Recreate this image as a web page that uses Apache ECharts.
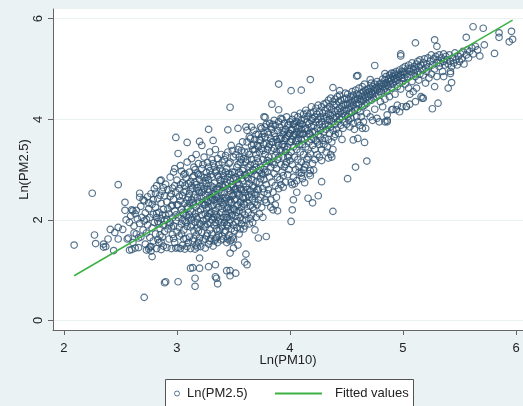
<!DOCTYPE html>
<html>
<head>
<meta charset="utf-8">
<script src="https://cdn.jsdelivr.net/npm/echarts@6/dist/echarts.min.js"></script>
<style>
  html, body { margin: 0; padding: 0; background: #eaf2f3; }
  #chart { width: 523px; height: 406px; }
</style>
</head>
<body>
<div id="chart"></div>
<script>
// tick labels
const xTicks = [2, 3, 4, 5, 6];
const yTicks = [0, 2, 4, 6];

// fitted line end points [Ln(PM10), Ln(PM2.5)]
const fitPm10 = [2.09, 5.97];
const fitPm25 = [0.89, 5.97];

const cloudLow = [
  [2.56,1.62],[2.58,1.95],[2.59,2.08],[2.61,1.55],[2.62,1.88],[2.63,2.12],[2.64,1.72],[2.65,2.02],[2.66,1.45],[2.67,1.93],[2.68,2.27],[2.68,1.66],[2.69,2.05],[2.70,1.80],[2.61,2.18],
  [2.71,1.98],[2.71,2.38],[2.72,1.52],[2.72,2.14],[2.73,1.74],[2.74,2.46],[2.74,1.90],[2.75,1.42],[2.75,2.22],[2.76,1.65],[2.76,2.05],[2.77,1.38],[2.77,2.52],[2.78,1.84],[2.78,2.31],[2.79,1.58],[2.79,2.11],[2.80,1.95],[2.80,2.62],[2.73,2.01],[2.77,1.47],[2.79,2.40],
  [2.81,1.72],[2.81,2.25],[2.82,1.43],[2.82,2.68],[2.83,1.97],[2.83,2.42],[2.84,1.55],[2.84,2.15],[2.85,1.83],[2.85,2.78],[2.86,1.41],[2.86,2.33],[2.86,2.02],[2.87,1.66],[2.87,2.57],[2.88,1.90],[2.88,2.21],[2.88,1.48],[2.89,2.48],[2.89,1.77],[2.90,2.09],[2.90,2.71],[2.84,1.92],[2.87,2.10],[2.83,1.61],[2.89,1.99],[2.85,2.49],[2.82,2.05],[2.88,2.64],[2.86,1.56],
  [2.91,1.45],[2.91,2.36],[2.92,1.82],[2.92,2.60],[2.93,2.12],[2.93,1.62],[2.94,2.85],[2.94,1.95],[2.95,2.27],[2.95,1.43],[2.95,2.52],[2.96,1.71],[2.96,2.04],[2.97,2.95],[2.97,1.88],[2.97,2.41],[2.98,1.55],[2.98,2.18],[2.98,2.68],[2.99,1.99],[2.99,1.44],[3.00,2.30],[3.00,1.76],[3.00,2.79],[2.92,2.22],[2.94,2.47],[2.96,2.63],[2.93,1.90],[2.99,2.55],[2.97,1.63],[2.91,2.01],[2.95,1.86],[2.98,3.02],[2.96,2.29],[2.99,2.10],
  [3.01,1.45],[3.01,2.05],[3.02,2.62],[3.02,1.68],[3.03,2.38],[3.03,3.08],[3.04,1.92],[3.04,2.21],[3.05,1.50],[3.05,2.74],[3.05,2.48],[3.06,1.80],[3.06,2.12],[3.06,2.90],[3.07,1.42],[3.07,2.33],[3.07,1.98],[3.08,2.57],[3.08,1.63],[3.08,2.83],[3.09,2.26],[3.09,1.87],[3.09,3.15],[3.10,2.04],[3.10,2.45],[3.10,1.55],[3.01,2.30],[3.02,1.85],[3.03,2.70],[3.04,2.97],[3.05,2.15],[3.06,2.55],[3.07,2.68],[3.08,2.09],[3.09,2.40],[3.10,2.72],[3.02,2.47],[3.04,1.72],[3.06,1.62],[3.08,1.95],[3.03,1.43],[3.07,2.92],[3.09,1.47],[3.05,2.00],[3.10,2.24],
  [3.11,1.66],[3.11,2.52],[3.11,2.95],[3.12,1.43],[3.12,2.18],[3.12,2.76],[3.13,1.90],[3.13,2.40],[3.13,3.22],[3.14,1.58],[3.14,2.05],[3.14,2.63],[3.15,1.78],[3.15,2.30],[3.15,2.88],[3.15,3.05],[3.16,1.42],[3.16,2.12],[3.16,2.50],[3.16,1.96],[3.17,1.70],[3.17,2.70],[3.17,2.26],[3.17,3.30],[3.18,1.84],[3.18,2.44],[3.18,2.02],[3.18,2.93],[3.19,1.55],[3.19,2.58],[3.19,2.17],[3.19,3.12],[3.20,1.93],[3.20,2.36],[3.20,2.80],[3.20,1.64],[3.11,2.10],[3.12,2.60],[3.13,2.00],[3.14,2.85],[3.15,2.45],[3.16,2.75],[3.17,1.50],[3.18,2.64],[3.19,1.78],[3.12,1.86],[3.14,2.35],[3.16,3.00],[3.18,1.46],[3.20,2.55],[3.13,2.68],[3.15,1.63],[3.17,2.06],[3.19,2.90],[3.11,2.33],
  [3.21,1.47],[3.21,2.20],[3.21,2.66],[3.22,1.75],[3.22,2.43],[3.22,3.02],[3.23,1.98],[3.23,2.58],[3.23,1.60],[3.24,2.30],[3.24,2.84],[3.24,3.25],[3.25,1.86],[3.25,2.12],[3.25,2.49],[3.25,1.44],[3.26,2.72],[3.26,2.02],[3.26,1.68],[3.26,2.95],[3.27,2.36],[3.27,1.92],[3.27,2.61],[3.27,3.14],[3.28,1.52],[3.28,2.25],[3.28,2.80],[3.28,2.06],[3.29,1.80],[3.29,2.45],[3.29,2.98],[3.29,3.35],[3.30,2.15],[3.30,1.63],[3.30,2.68],[3.30,2.38],[3.21,2.88],[3.22,2.10],[3.23,2.35],[3.24,1.90],[3.25,2.78],[3.26,2.40],[3.27,1.73],[3.28,2.55],[3.29,2.12],[3.30,2.90],[3.21,1.90],[3.23,2.74],[3.25,2.30],[3.27,2.08],[3.29,2.60],[3.22,2.55],[3.24,2.62],[3.26,2.22],[3.28,3.05],[3.30,1.95],[3.23,3.10],[3.25,1.62],[3.27,2.85],[3.29,1.58]
];

const cloudMid = [
  [3.31,1.72],[3.31,2.28],[3.31,2.85],[3.32,1.48],[3.32,2.05],[3.32,2.52],[3.32,3.12],[3.33,1.90],[3.33,2.40],[3.33,2.73],[3.34,1.62],[3.34,2.18],[3.34,2.95],[3.34,3.40],[3.35,1.82],[3.35,2.32],[3.35,2.60],[3.35,2.10],[3.36,1.55],[3.36,2.47],[3.36,2.88],[3.36,3.22],[3.37,1.97],[3.37,2.25],[3.37,2.66],[3.37,1.70],[3.38,2.38],[3.38,2.02],[3.38,3.02],[3.38,2.80],[3.39,1.60],[3.39,2.55],[3.39,2.15],[3.39,3.30],[3.40,1.88],[3.40,2.43],[3.40,2.70],[3.40,2.97],[3.31,2.00],[3.32,2.65],[3.33,2.12],[3.34,2.50],[3.35,2.98],[3.36,2.05],[3.37,2.42],[3.38,1.80],[3.39,2.78],[3.40,2.22],[3.31,2.45],[3.33,3.05],[3.35,1.65],[3.37,3.10],[3.39,1.95],[3.32,2.30],[3.34,1.95],[3.36,2.62],[3.38,2.60],[3.40,1.68],[3.33,1.58],[3.35,2.45],[3.37,2.85],[3.39,2.35],[3.31,3.20],[3.36,1.78],[3.40,3.15],
  [3.41,1.62],[3.41,2.30],[3.41,2.88],[3.42,1.95],[3.42,2.55],[3.42,3.20],[3.43,1.78],[3.43,2.12],[3.43,2.70],[3.44,1.55],[3.44,2.42],[3.44,3.02],[3.44,2.05],[3.45,1.88],[3.45,2.62],[3.45,2.25],[3.45,3.35],[3.46,1.70],[3.46,2.50],[3.46,2.92],[3.46,2.15],[3.47,2.00],[3.47,2.78],[3.47,1.58],[3.47,3.15],[3.48,2.35],[3.48,1.82],[3.48,2.65],[3.48,3.48],[3.49,2.10],[3.49,2.95],[3.49,1.66],[3.49,2.48],[3.50,2.22],[3.50,1.90],[3.50,2.82],[3.50,3.25],[3.41,2.05],[3.42,2.38],[3.43,2.95],[3.44,2.75],[3.45,2.05],[3.46,2.35],[3.47,2.58],[3.48,2.08],[3.49,2.70],[3.50,2.50],[3.42,1.75],[3.44,2.22],[3.46,3.12],[3.48,2.90],[3.50,1.62],[3.41,2.65],[3.43,2.45],[3.45,2.85],[3.47,2.20],[3.49,3.38],[3.42,2.80],[3.44,1.90],[3.46,1.95],[3.48,1.60],[3.50,2.65],[3.43,3.28],[3.45,1.62],[3.47,2.40],
  [3.51,1.78],[3.51,2.40],[3.51,2.95],[3.52,2.08],[3.52,2.62],[3.52,3.30],[3.53,1.85],[3.53,2.28],[3.53,2.80],[3.54,2.52],[3.54,3.10],[3.54,1.98],[3.55,2.18],[3.55,2.70],[3.55,3.45],[3.55,1.72],[3.56,2.35],[3.56,2.90],[3.56,2.05],[3.57,2.60],[3.57,3.20],[3.57,1.92],[3.58,2.45],[3.58,2.78],[3.58,2.15],[3.58,3.55],[3.59,2.32],[3.59,3.02],[3.59,1.82],[3.60,2.55],[3.60,2.88],[3.60,2.10],[3.60,3.35],[3.51,2.20],[3.52,2.85],[3.53,2.55],[3.54,2.30],[3.55,2.95],[3.56,2.62],[3.57,2.25],[3.58,2.98],[3.59,2.60],[3.60,2.30],[3.52,1.95],[3.54,2.75],[3.56,3.15],[3.58,2.00],[3.60,1.88],[3.51,2.60],[3.53,3.05],[3.55,2.48],[3.57,2.82],[3.59,2.42],[3.53,2.15],[3.57,3.38],[3.55,3.25],[3.52,2.42],[3.56,1.82],[3.59,3.22],[3.54,3.40],
  [3.61,2.00],[3.61,2.65],[3.61,3.15],[3.62,2.35],[3.62,2.85],[3.62,3.55],[3.63,2.15],[3.63,2.50],[3.63,3.05],[3.64,1.92],[3.64,2.72],[3.64,3.30],[3.65,2.28],[3.65,2.58],[3.65,3.62],[3.65,2.95],[3.66,2.10],[3.66,2.80],[3.66,3.20],[3.67,2.42],[3.67,2.68],[3.67,3.40],[3.67,1.95],[3.68,2.20],[3.68,2.98],[3.68,3.50],[3.69,2.55],[3.69,3.12],[3.69,2.35],[3.70,2.75],[3.70,3.30],[3.70,2.05],[3.70,3.70],[3.61,2.45],[3.62,2.60],[3.63,3.35],[3.64,2.45],[3.65,3.10],[3.66,2.50],[3.67,3.00],[3.68,2.65],[3.69,2.90],[3.70,2.50],[3.62,3.20],[3.64,3.65],[3.66,3.48],[3.68,3.78],[3.70,3.05],[3.63,2.82],[3.65,2.02],[3.67,2.25],[3.69,3.60],[3.61,2.90],[3.66,3.85],[3.69,3.40],
  [3.71,2.30],[3.71,2.88],[3.71,3.48],[3.72,2.60],[3.72,3.15],[3.72,3.70],[3.73,2.12],[3.73,2.75],[3.73,3.35],[3.74,2.45],[3.74,3.05],[3.74,3.58],[3.75,2.25],[3.75,2.92],[3.75,3.42],[3.75,3.82],[3.76,2.62],[3.76,3.20],[3.76,2.05],[3.77,2.80],[3.77,3.50],[3.77,3.00],[3.78,2.40],[3.78,3.30],[3.78,3.65],[3.79,2.70],[3.79,3.12],[3.79,3.90],[3.80,2.52],[3.80,3.40],[3.80,2.95],[3.80,3.75],[3.71,3.22],[3.72,2.40],[3.73,3.60],[3.74,2.82],[3.75,3.65],[3.76,3.38],[3.77,2.55],[3.78,2.95],[3.79,3.52],[3.80,3.18],[3.72,3.45],[3.74,3.85],[3.76,2.90],[3.78,3.85],[3.73,2.98],[3.77,3.72],[3.79,2.35],[3.71,2.60]
];

const cloudHigh = [
  [3.81,2.60],[3.81,3.25],[3.81,3.70],[3.82,2.85],[3.82,3.50],[3.82,3.92],[3.83,2.40],[3.83,3.05],[3.83,3.62],[3.84,2.75],[3.84,3.38],[3.84,3.80],[3.85,2.55],[3.85,3.15],[3.85,3.55],[3.86,2.92],[3.86,3.72],[3.86,3.42],[3.87,2.68],[3.87,3.28],[3.87,3.88],[3.88,3.02],[3.88,3.60],[3.88,2.45],[3.89,3.20],[3.89,3.78],[3.89,2.85],[3.90,3.48],[3.90,3.95],[3.90,2.62],[3.81,3.45],[3.82,3.15],[3.83,3.85],[3.84,3.55],[3.85,3.90],[3.86,3.10],[3.87,3.65],[3.88,3.35],[3.89,3.55],[3.90,3.25],[3.83,2.25],[3.85,2.20],[3.87,2.30],[3.89,2.18],[3.86,3.98],
  [3.91,2.80],[3.91,3.40],[3.91,3.85],[3.92,3.10],[3.92,3.62],[3.92,4.02],[3.93,2.95],[3.93,3.50],[3.93,3.78],[3.94,3.25],[3.94,3.70],[3.94,2.65],[3.95,3.05],[3.95,3.58],[3.95,3.92],[3.96,3.35],[3.96,3.80],[3.96,2.75],[3.97,3.15],[3.97,3.65],[3.97,4.05],[3.98,3.45],[3.98,3.88],[3.98,2.90],[3.99,3.28],[3.99,3.72],[3.99,3.00],[4.00,3.55],[4.00,3.95],[4.00,3.18],[3.91,3.62],[3.92,3.38],[3.93,4.00],[3.94,3.50],[3.95,3.75],[3.96,3.62],[3.97,3.40],[3.98,3.68],[3.99,3.90],[4.00,3.72],[3.92,2.70],[3.94,2.88],[3.96,3.10],[3.98,3.25],[3.95,3.45],
  [4.01,3.35],[4.01,3.80],[4.01,2.75],[4.02,3.60],[4.02,4.00],[4.02,3.10],[4.03,3.45],[4.03,3.90],[4.03,2.85],[4.04,3.70],[4.04,3.25],[4.04,4.08],[4.05,3.55],[4.05,3.85],[4.05,3.00],[4.06,3.40],[4.06,3.95],[4.06,3.75],[4.07,3.62],[4.07,4.05],[4.07,3.20],[4.08,3.50],[4.08,3.88],[4.08,2.95],[4.09,3.72],[4.09,4.12],[4.09,3.35],[4.10,3.60],[4.10,3.98],[4.10,3.15],[4.01,3.55],[4.02,3.78],[4.03,3.68],[4.04,3.92],[4.05,3.70],[4.06,3.58],[4.07,3.85],[4.08,3.70],[4.09,3.92],[4.10,3.80],[4.02,2.70],[4.04,2.72],[4.06,2.78],[4.08,3.05],[4.10,2.88],
  [4.11,3.50],[4.11,3.90],[4.11,2.82],[4.12,3.72],[4.12,4.10],[4.12,3.30],[4.13,3.60],[4.13,4.00],[4.13,3.05],[4.14,3.82],[4.14,3.45],[4.14,4.18],[4.15,3.65],[4.15,3.95],[4.15,3.20],[4.16,3.78],[4.16,4.05],[4.16,3.40],[4.17,3.55],[4.17,3.92],[4.17,2.92],[4.18,3.70],[4.18,4.12],[4.18,3.32],[4.19,3.85],[4.19,3.60],[4.19,4.25],[4.20,3.75],[4.20,4.02],[4.20,3.48],[4.11,3.70],[4.13,3.80],[4.15,4.12],[4.17,3.72],[4.19,3.98],[4.12,3.00],[4.14,3.10],[4.16,3.25],[4.18,2.98],[4.20,3.12],
  [4.21,3.88],[4.21,3.62],[4.21,4.15],[4.22,3.75],[4.22,4.05],[4.22,3.40],[4.23,3.95],[4.23,3.58],[4.23,4.22],[4.24,3.82],[4.24,4.10],[4.24,3.30],[4.25,3.70],[4.25,4.00],[4.25,4.28],[4.26,3.90],[4.26,3.50],[4.26,4.15],[4.27,3.78],[4.27,4.05],[4.27,3.65],[4.28,3.95],[4.28,4.25],[4.28,3.40],[4.29,3.85],[4.29,4.12],[4.29,3.58],[4.30,4.02],[4.30,3.75],[4.30,4.30],[4.22,3.20],[4.24,3.55],[4.26,3.25],[4.28,3.18],[4.30,3.50],
  [4.31,3.90],[4.31,4.18],[4.31,3.62],[4.32,4.05],[4.32,3.80],[4.32,4.32],[4.33,3.98],[4.33,4.22],[4.33,3.45],[4.34,3.88],[4.34,4.12],[4.34,4.38],[4.35,4.00],[4.35,3.72],[4.35,4.25],[4.36,4.08],[4.36,3.85],[4.36,4.42],[4.37,3.95],[4.37,4.20],[4.37,3.55],[4.38,4.10],[4.38,4.35],[4.38,3.78],[4.39,4.02],[4.39,4.28],[4.39,3.65],[4.40,4.15],[4.40,3.90],[4.40,4.40],[4.32,3.35],[4.34,3.60],[4.36,3.30],[4.38,3.40],[4.40,3.70],
  [4.41,4.05],[4.41,4.30],[4.41,3.80],[4.42,4.18],[4.42,3.95],[4.42,4.45],[4.43,4.10],[4.43,4.35],[4.43,3.72],[4.44,4.22],[4.44,4.00],[4.44,4.48],[4.45,4.15],[4.45,3.88],[4.45,4.38],[4.46,4.25],[4.46,4.05],[4.46,3.60],[4.47,4.30],[4.47,4.12],[4.47,3.82],[4.48,4.40],[4.48,4.20],[4.48,3.95],[4.49,4.28],[4.49,4.08],[4.49,4.52],[4.50,4.18],[4.50,3.90],[4.50,4.42]
];

const cloudTop = [
  [4.51,4.30],[4.51,4.05],[4.51,4.50],[4.52,4.22],[4.52,3.98],[4.52,4.40],[4.53,4.32],[4.53,4.12],[4.53,3.85],[4.54,4.45],[4.54,4.25],[4.54,4.02],[4.55,4.35],[4.55,4.15],[4.55,4.55],[4.56,4.28],[4.56,3.92],[4.56,4.48],[4.57,4.38],[4.57,4.18],[4.57,3.80],[4.58,4.42],[4.58,4.22],[4.58,4.58],[4.59,4.32],[4.59,4.05],[4.59,4.50],[4.60,4.40],[4.60,4.20],[4.60,3.95],
  [4.61,4.48],[4.61,4.30],[4.61,4.62],[4.62,4.40],[4.62,4.15],[4.62,3.88],[4.63,4.52],[4.63,4.35],[4.63,4.05],[4.64,4.45],[4.64,4.25],[4.64,4.65],[4.65,4.55],[4.65,4.38],[4.65,3.95],[4.66,4.48],[4.66,4.28],[4.66,4.70],[4.67,4.58],[4.67,4.42],[4.67,3.82],[4.68,4.52],[4.68,4.32],[4.68,4.12],[4.69,4.60],[4.69,4.45],[4.70,4.55],[4.70,4.38],
  [4.71,4.62],[4.71,4.48],[4.71,4.05],[4.72,4.55],[4.72,4.38],[4.72,4.72],[4.73,4.65],[4.73,4.50],[4.73,3.98],[4.74,4.58],[4.74,4.42],[4.75,4.70],[4.75,4.52],[4.75,4.20],[4.76,4.62],[4.76,4.45],[4.77,4.75],[4.77,4.58],[4.77,4.02],[4.78,4.65],[4.78,4.48],[4.79,4.70],[4.79,4.55],[4.80,4.62],[4.80,4.35],
  [4.81,4.72],[4.81,4.55],[4.82,4.65],[4.82,4.80],[4.82,4.25],[4.83,4.70],[4.83,4.58],[4.84,4.78],[4.84,4.62],[4.84,4.40],[4.85,4.72],[4.85,4.85],[4.86,4.68],[4.86,4.55],[4.86,3.98],[4.87,4.80],[4.87,4.65],[4.88,4.75],[4.88,4.88],[4.88,4.45],[4.89,4.70],[4.89,4.82],[4.90,4.78],[4.90,4.62],[4.90,4.92],
  [4.91,4.85],[4.91,4.70],[4.91,4.20],[4.92,4.80],[4.92,4.92],[4.93,4.75],[4.93,4.88],[4.93,4.50],[4.94,4.82],[4.94,4.95],[4.95,4.78],[4.95,4.65],[4.95,4.28],[4.96,4.90],[4.96,4.85],[4.97,4.72],[4.97,4.98],[4.98,4.88],[4.98,4.60],[4.99,4.82],[4.99,4.95],[5.00,4.90],[5.00,4.75],[5.00,5.02],[4.97,4.15],
  [5.01,4.95],[5.01,4.82],[5.02,5.05],[5.02,4.70],[5.03,4.90],[5.03,4.25],[5.04,5.00],[5.04,4.85],[5.05,5.08],[5.05,4.62],[5.06,4.95],[5.06,4.30],[5.07,5.02],[5.07,4.88],[5.08,5.12],[5.08,4.75],[5.09,4.98],[5.09,4.55],[5.10,5.05],[5.10,4.92],
  [5.11,5.00],[5.11,4.85],[5.12,5.10],[5.12,4.62],[5.13,4.95],[5.13,5.15],[5.14,4.78],[5.14,5.05],[5.15,4.90],[5.15,5.18],[5.16,4.45],[5.16,5.08],[5.17,4.98],[5.18,5.12],[5.18,4.88],[5.19,5.20],[5.20,5.02],[5.20,4.72],
  [5.21,5.10],[5.21,4.95],[5.22,5.22],[5.23,5.05],[5.23,4.82],[5.24,5.15],[5.25,5.28],[5.25,4.90],[5.26,5.08],[5.27,5.20],[5.28,5.00],[5.28,4.65],[5.29,5.25],[5.30,5.12],[5.30,4.85],
  [5.31,5.18],[5.32,5.05],[5.32,5.28],[5.33,5.12],[5.34,5.22],[5.35,4.95],[5.36,5.15],[5.36,5.30],[5.37,5.08],[5.38,5.25],[5.39,5.18],[5.40,5.10],
  [5.41,5.28],[5.42,5.15],[5.43,5.05],[5.44,5.22],[5.45,5.12],[5.46,5.32],[5.47,5.18],[5.48,5.08],[5.49,5.25],[5.50,5.15],[5.51,5.30],[5.52,5.20],[5.53,5.35],[5.54,5.10],
  [5.56,5.28],[5.57,5.38],[5.58,5.22],[5.59,5.35],[5.61,5.42],[5.62,5.30],[5.64,5.45],[5.66,5.38]
];

const outliers = [
  [2.09,1.50],[2.25,2.53],[2.27,1.70],[2.28,1.53],[2.35,1.52],[2.37,1.47],[2.35,1.46],[2.39,1.62],[2.41,1.81],[2.44,1.39],[2.45,1.75],[2.48,1.85],[2.48,1.62],[2.48,2.70],[2.52,1.81],[2.54,2.35],[2.54,2.19],[2.55,2.00],[2.57,1.64],[2.58,1.40],[2.60,1.41],[2.60,2.20],[2.62,1.74],[2.63,1.44],[2.64,2.19],[2.66,1.64],[2.67,2.53],[2.67,2.45],[2.70,2.40],[2.71,0.46],[2.73,1.40],[2.75,2.34],[2.76,1.46],[2.78,1.27],[2.81,2.53],[2.82,2.13],[2.85,1.70],[2.86,2.79],[2.89,0.75],[2.90,0.77],
  [2.99,3.64],[3.01,0.77],[3.01,3.32],[3.09,3.54],[3.12,1.04],[3.14,1.05],[3.16,0.84],[3.16,0.68],[3.20,3.56],[3.22,3.48],[3.20,1.24],[3.20,1.04],[3.28,3.80],[3.28,1.07],[3.32,3.58],[3.34,1.11],[3.34,0.87],[3.35,0.84],[3.36,0.73],[3.44,0.99],[3.47,0.99],[3.47,0.89],[3.52,0.94],[3.47,4.24],[3.45,3.79],[3.61,1.32],[3.60,1.16],[3.62,1.11],[3.54,3.82],[3.61,3.85],[3.62,3.78],[3.72,1.64],[3.79,1.67],[3.69,1.80],[3.50,1.44],[3.47,1.34],[3.54,1.50],
  [3.77,4.05],[3.78,4.04],[3.84,4.30],[3.90,4.70],[3.90,4.19],[4.01,4.57],[4.10,4.58],[4.18,4.79],[4.01,1.97],[4.02,2.20],[4.03,2.40],[4.06,2.55],[4.13,2.74],[4.16,2.43],[4.20,2.34],[4.25,2.48],[4.28,2.76],[4.38,2.17],[4.21,2.99],[4.18,2.88],[4.10,2.93],[4.34,3.23],[4.37,3.25],[4.51,2.82],[4.58,3.05],[4.68,3.17],[4.66,3.54],
  [4.38,4.63],[4.44,4.57],[4.59,4.86],[4.60,4.87],[4.71,4.79],[4.75,5.07],[4.84,4.91],[4.86,3.95],[4.84,3.95],[4.94,4.19],[4.98,5.26],[4.98,5.30],[5.11,5.52],[5.18,4.42],[5.26,4.21],[5.31,4.32],[5.28,5.58],[5.30,5.45],[5.40,4.62],[5.43,4.73],[5.42,4.91],
  [4.56,3.59],[4.60,3.62],[4.64,3.82],[4.79,3.95],[4.86,4.09],[4.90,4.19],[4.99,4.25],[5.03,4.26],[5.11,4.35],[5.17,4.42],[5.06,4.50],[5.36,4.85],[5.42,4.95],
  [5.56,5.63],[5.62,5.84],[5.71,5.81],[5.72,5.48],[5.68,5.26],[5.81,5.31],[5.85,5.72],[5.85,5.63],[5.96,5.75],[5.94,5.54],[5.97,5.59]
];

const chart = echarts.init(document.getElementById("chart"));
const font = '"Liberation Sans", Arial, sans-serif';
const navy = "#2e5372";
const green = "#3bb143";
const axisGray = "#666";

const scatterData = cloudLow.concat(cloudMid, cloudHigh, cloudTop, outliers);
const fitData = fitPm10.map((x, i) => [x, fitPm25[i]]);

chart.setOption({
  backgroundColor: "#eaf2f3",
  animation: false,
  textStyle: { fontFamily: font },
  grid: {
    left: 53, right: 0, top: 9, bottom: 76,
    show: true, backgroundColor: "#fff", borderWidth: 0,
  },
  xAxis: {
    type: "value",
    min: 1.903,
    max: 6.062,
    name: "Ln(PM10)",
    nameLocation: "middle",
    nameGap: 24,
    nameMoveOverlap: false,
    nameTextStyle: { color: "#222", fontSize: 13, fontFamily: font },
    axisLine: { onZero: false, lineStyle: { color: axisGray } },
    axisTick: { show: true, length: 5, customValues: xTicks, lineStyle: { color: axisGray } },
    axisLabel: { customValues: xTicks, margin: 12, color: "#222", fontSize: 13, fontFamily: font },
    splitLine: { show: false },
  },
  yAxis: {
    type: "value",
    min: -0.189,
    max: 6.193,
    name: "Ln(PM2.5)",
    nameLocation: "middle",
    nameGap: 22,
    nameRotate: 90,
    nameMoveOverlap: false,
    nameTextStyle: { color: "#222", fontSize: 13, fontFamily: font },
    axisLine: { show: true, onZero: false, lineStyle: { color: axisGray } },
    axisTick: { show: true, length: 5, customValues: yTicks, lineStyle: { color: axisGray } },
    axisLabel: { customValues: yTicks, rotate: 90, margin: 8, color: "#222", fontSize: 13, fontFamily: font },
    splitLine: { show: true, lineStyle: { color: "#eaf2f3", width: 1 } },
  },
  graphic: [
    {
      type: "rect",
      z: 1,
      shape: { x: 165.5, y: 379.5, width: 248, height: 40 },
      style: { fill: "#fff", stroke: "#555", lineWidth: 1 },
    },
  ],
  legend: [
    {
      left: 169, top: 382, z: 5,
      itemWidth: 10, itemHeight: 5,
      selectedMode: false,
      data: [{
        name: "Ln(PM2.5)",
        icon: "circle",
        itemStyle: { color: "transparent", borderColor: navy, borderWidth: 1 },
      }],
      textStyle: { color: "#222", fontSize: 13, fontFamily: font },
    },
    {
      left: 270, top: 382, z: 5,
      itemWidth: 47, itemHeight: 2,
      selectedMode: false,
      data: [{ name: "Fitted values", icon: "rect", itemStyle: { color: green } }],
      textStyle: { color: "#222", fontSize: 13, fontFamily: font, padding: [0, 0, 0, 8] },
    },
  ],
  series: [
    {
      name: "Ln(PM2.5)",
      type: "scatter",
      symbol: "circle",
      symbolSize: 6.5,
      data: scatterData,
      itemStyle: { color: "transparent", borderColor: navy, borderWidth: 1.2 },
      emphasis: { disabled: true },
    },
    {
      name: "Fitted values",
      type: "line",
      data: fitData,
      symbol: "none",
      z: 3,
      lineStyle: { color: green, width: 1.5 },
      itemStyle: { color: green },
    },
  ],
});
</script>
</body>
</html>
